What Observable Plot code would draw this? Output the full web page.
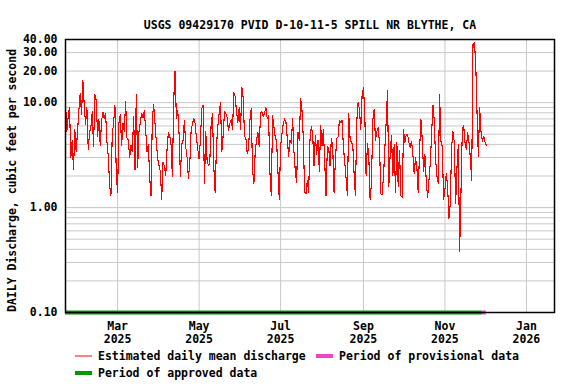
<!DOCTYPE html>
<html><head><meta charset="utf-8">
<script src="https://cdn.jsdelivr.net/npm/d3@7"></script>
<script src="https://cdn.jsdelivr.net/npm/@observablehq/plot@0.6"></script>
<style>body{margin:0;background:#fff}svg{display:block}</style>
</head><body><div id="chart"></div>
<script>
const titleText = "USGS 09429170 PVID D-10-11-5 SPILL NR BLYTHE, CA";
const yLabelText = "DAILY Discharge, cubic feet per second";
const startDate = "2025-01-21";
const discharge = [
10.2,5.3,7.4,9.0,3.0,4.4,2.3,5.5,3.4,5.3,8.5,12.2,7.8,16.4,9.5,6.2,9.0,3.6,5.2,5.9,8.2,3.8,12.0,10.5,4.8,6.9,3.9,6.7,8.1,7.0,7.9,4.3,3.1,1.65,1.3,5.1,6.3,9.5,2.1,1.4,6.4,7.7,3.9,6.4,5.3,10.2,4.6,4.4,3.0,3.9,3.4,7.3,2.3,12.0,2.4,5.3,6.5,7.9,7.2,8.4,5.5,3.4,4.0,1.96,1.3,7.1,9.6,6.3,4.2,2.9,2.5,2.2,1.2,2.7,2.5,2.0,3.6,5.2,4.9,
4.0,1.96,10.6,20,7.1,8.5,5.0,2.0,4.0,4.4,6.8,3.8,3.0,1.9,2.6,5.3,6.3,7.0,6.4,4.6,3.6,2.9,4.5,8.8,9.4,1.7,5.3,2.8,2.5,2.7,6.2,7.9,2.45,1.4,3.9,5.9,7.9,10.0,3.4,4.9,8.2,7.9,7.2,5.4,6.3,6.9,5.5,12.5,11.5,8.2,6.5,9.0,5.5,14.0,11.0,4.8,4.6,3.3,3.6,6.8,8.8,2.3,1.7,3.4,4.4,5.2,3.8,8.0,8.2,7.3,8.0,9.0,7.0,7.6,2.15,1.3,7.5,5.9,4.7,
4.3,2.2,1.2,3.9,5.0,6.4,7.0,6.5,4.6,3.1,4.4,4.1,7.1,3.4,2.2,1.75,5.2,4.4,11.0,8.5,4.5,1.4,1.35,1.8,1.4,4.5,5.9,5.0,2.5,4.9,3.2,4.4,2.2,6.0,3.9,5.5,2.8,1.3,3.8,3.7,2.5,4.6,3.8,1.4,2.8,4.6,4.7,6.8,6.4,6.8,3.8,2.7,1.9,1.3,7.8,4.6,4.1,4.0,2.1,1.3,6.6,10.0,8.7,5.6,11.8,14.0,8.0,2.0,4.1,3.1,1.2,1.7,6.8,8.7,4.4,5.3,5.8,4.1,1.35,
1.33,2.0,3.6,6.5,13.0,1.6,3.2,4.9,2.0,4.0,1.4,4.2,1.6,3.5,1.3,1.25,5.5,4.2,4.9,5.0,4.2,3.7,4.3,3.2,2.1,3.0,2.4,1.4,3.5,6.9,4.5,2.2,3.2,1.8,1.25,1.8,2.6,5.0,9.5,6.8,2.9,2.0,1.7,12.0,4.3,3.8,1.2,1.5,2.1,1.6,0.79,1.1,3.8,5.3,4.2,1.1,2.4,4.0,0.38,1.4,5.5,6.1,4.2,3.6,5.2,4.2,3.0,1.8,36,37,25,8.2,3.1,9.0,5.3,4.3,4.8,4.2,3.9
];
const yTicks = [0.1, 1, 10, 20, 30, 40];
const yGrid = [0.2,0.3,0.4,0.5,0.6,0.7,0.8,0.9,1,2,3,4,5,6,7,8,9,10,20,30];
const monthTicks = ["2025-03-01","2025-05-01","2025-07-01","2025-09-01","2025-11-01","2026-01-01"];
const xDomain = ["2025-01-21","2026-01-22"];
const periodStart = ["2025-01-21","2025-11-29"];
const periodEnd = ["2025-11-29","2025-12-02"];
const periodKind = ["approved","provisional"];

const t0 = new Date(startDate);
const data = discharge.map((v, i) => ({date: d3.utcDay.offset(t0, i), value: v}));
const ticks = monthTicks.map(d => new Date(d));
const periods = periodKind.map((k, i) => ({kind: k, start: new Date(periodStart[i]), end: new Date(periodEnd[i])}));
const colors = {approved: "#009900", provisional: "#ee44cc"};
const FONT = "DejaVu Sans Mono";

const chart = Plot.plot({
  width: 576, height: 384,
  marginLeft: 65, marginRight: 22, marginTop: 39, marginBottom: 72,
  style: {fontFamily: FONT, fontSize: "11.5px", fontWeight: "bold", background: "#fff", color: "#000"},
  x: {type: "utc", domain: xDomain.map(d => new Date(d)), axis: null},
  y: {type: "log", domain: [0.1, 40], axis: null},
  marks: [
    Plot.ruleY(yGrid, {stroke: "#c8c8c8", strokeWidth: 1}),
    Plot.ruleX(ticks, {stroke: "#c8c8c8", strokeWidth: 1}),
    Plot.line(data, {x: "date", y: "value", stroke: "#ff0000", strokeWidth: 1.1, shapeRendering: "crispEdges"}),
    Plot.ruleY(periods, {y: () => 0.1, x1: "start", x2: "end", stroke: d => colors[d.kind], strokeWidth: 4}),
    Plot.frame({stroke: "#000", strokeWidth: 1.5}),
    Plot.text(yTicks, {y: d => d, text: d => d.toFixed(2), frameAnchor: "left", dx: -8, textAnchor: "end", fontSize: 11.5, fontWeight: "bold"}),
    Plot.text(ticks, {x: d => d, text: d3.utcFormat("%b\n%Y"), frameAnchor: "bottom", lineAnchor: "top", dy: 8, lineHeight: 1.16, fontSize: 11.5, fontWeight: "bold"}),
    Plot.text([titleText], {text: d => d, frameAnchor: "top", dy: -19, fontSize: 11.5, fontWeight: "bold"}),
    Plot.text([yLabelText], {text: d => d, frameAnchor: "left", textAnchor: "middle", dx: -53, dy: 4.5, rotate: -90, fontSize: 11.5, fontWeight: "bold"})
  ]
});

const svg = d3.select(chart);
const leg = svg.append("g").attr("font-family", FONT).attr("font-size", 11.5).attr("font-weight", "bold");
const legendItems = [
  {label: "Estimated daily mean discharge", color: "#ff0000", w: 1, x: 75, y: 356},
  {label: "Period of provisional data", color: colors.provisional, w: 4, x: 316, y: 356},
  {label: "Period of approved data", color: colors.approved, w: 4, x: 75, y: 373}
];
legendItems.forEach(it => {
  leg.append("line").attr("x1", it.x).attr("x2", it.x + 17).attr("y1", it.y).attr("y2", it.y)
    .attr("stroke", it.color).attr("stroke-width", it.w);
  leg.append("text").attr("x", it.x + 23).attr("y", it.y).attr("dy", "0.35em")
    .attr("text-anchor", "start").attr("fill", "#000").text(it.label);
});
document.getElementById("chart").appendChild(chart);
</script>
</body></html>
